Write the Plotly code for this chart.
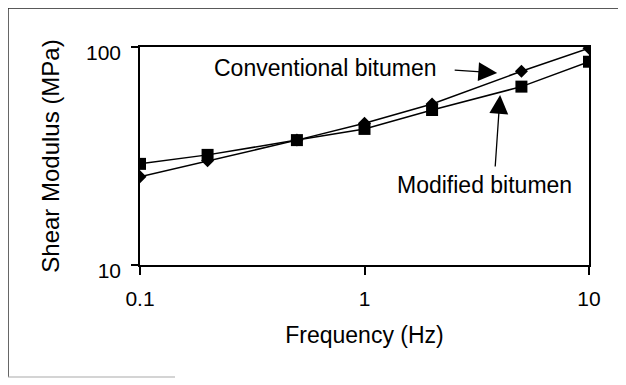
import plotly.graph_objects as go

frequency = [0.1, 0.2, 0.5, 1, 2, 5, 10]
conventional = [25.4, 30.1, 37.4, 44.7, 54.8, 77.4, 98.6]
modified = [29.1, 32.0, 37.4, 42.1, 51.4, 65.8, 85.6]
x_ticks = [0.1, 1, 10]
x_tick_labels = ["0.1", "1", "10"]
y_ticks = [10, 100]
y_tick_labels = ["10", "100"]

FONT = "Liberation Sans, Arial, sans-serif"

# plot area in page pixels (page has an 8px body offset)
PL, PR, PT, PB = 140, 589, 47, 265


def px(x):
    return (x - PL) / (PR - PL)


def py(y):
    return (PB - y) / (PB - PT)


fig = go.Figure()
fig.add_trace(go.Scatter(
    x=frequency, y=conventional, mode="lines+markers", name="Conventional bitumen",
    line=dict(color="black", width=1.5),
    marker=dict(symbol="diamond", size=10, color="black"),
))
fig.add_trace(go.Scatter(
    x=frequency, y=modified, mode="lines+markers", name="Modified bitumen",
    line=dict(color="black", width=1.5),
    marker=dict(symbol="square", size=12, color="black"),
))

fig.update_xaxes(
    type="log", range=[-1, 1], tickvals=x_ticks, ticktext=x_tick_labels,
    showgrid=False, zeroline=False, showline=True, linecolor="black", linewidth=1.5,
    mirror=True, ticks="outside", ticklen=8, tickcolor="black", tickwidth=1.5,
    ticklabelstandoff=6,
    title=dict(text="Frequency (Hz)", font=dict(size=23, family=FONT, color="black"), standoff=18),
    tickfont=dict(size=21, family=FONT, color="black"),
)
fig.update_yaxes(
    type="log", range=[1, 2], tickvals=y_ticks, ticktext=y_tick_labels,
    showgrid=False, zeroline=False, showline=True, linecolor="black", linewidth=1.5,
    mirror=True, ticks="outside", ticklen=7, tickcolor="black", tickwidth=1.5,
    ticklabelshift=6, ticklabelstandoff=6,
    title=dict(text="Shear Modulus (MPa)", font=dict(size=24, family=FONT, color="black"), standoff=20),
    tickfont=dict(size=21, family=FONT, color="black"),
)

annotations = [
    dict(x=0.591, y=1.881, xref="x", yref="y", text="", showarrow=True,
         ax=-44, ay=-3, arrowhead=2, arrowsize=2.9, arrowwidth=1.3, arrowcolor="black"),
    dict(x=0.604, y=1.780, xref="x", yref="y", text="", showarrow=True,
         ax=-5, ay=73, arrowhead=2, arrowsize=2.9, arrowwidth=1.3, arrowcolor="black"),
    dict(x=px(212), y=py(68), xref="paper", yref="paper",
         text="Conventional bitumen", showarrow=False, xanchor="left", yanchor="middle",
         font=dict(size=23, family=FONT, color="black")),
    dict(x=px(484), y=py(185), xref="paper", yref="paper",
         text="Modified bitumen", showarrow=False, xanchor="center", yanchor="middle",
         font=dict(size=23, family=FONT, color="black")),
]

shapes = [
    dict(type="line", xref="paper", yref="paper", x0=px(8), x1=px(640), y0=py(8), y1=py(8),
         line=dict(color="#222222", width=1.5)),
    dict(type="line", xref="paper", yref="paper", x0=px(8), x1=px(8), y0=py(8), y1=py(377),
         line=dict(color="#333333", width=1.5)),
    dict(type="line", xref="paper", yref="paper", x0=px(8), x1=px(175), y0=py(377), y1=py(377),
         line=dict(color="#aaaaaa", width=1.2)),
]

fig.update_layout(
    width=626, height=385,
    margin=dict(l=PL - 8, r=626 - (PR - 8), t=PT - 8, b=385 - (PB - 8)),
    paper_bgcolor="white", plot_bgcolor="white",
    showlegend=False,
    annotations=annotations, shapes=shapes,
    font=dict(family=FONT, color="black"),
)

fig.write_html("out.html")
